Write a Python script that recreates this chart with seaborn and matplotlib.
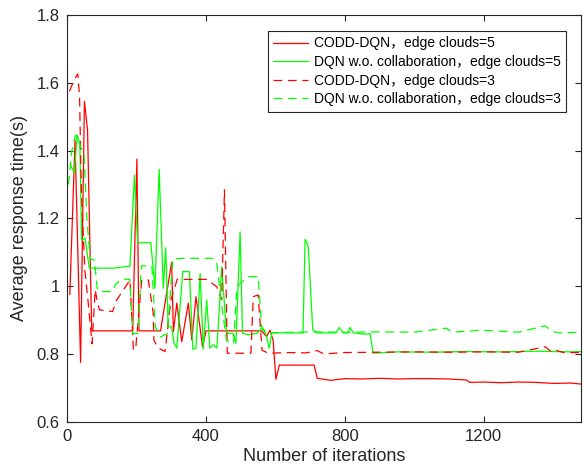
import matplotlib
matplotlib.use("Agg")
import matplotlib.pyplot as plt
import numpy as np
import pandas as pd
import seaborn as sns

# ---------------- data ----------------
labels = ["CODD-DQN\uff0cedge clouds=5",
          "DQN w.o. collaboration\uff0cedge clouds=5",
          "CODD-DQN\uff0cedge clouds=3",
          "DQN w.o. collaboration\uff0cedge clouds=3"]

r5_x = [9, 24, 40, 51, 60, 72, 190, 202, 208, 270, 302, 307, 317, 331, 350, 360, 372,
        391, 401, 561, 575, 585, 594, 602, 612, 712, 721, 760, 800, 850, 900, 950, 1000,
        1050, 1100, 1150, 1160, 1200, 1250, 1300, 1350, 1400, 1450, 1480]
r5_y = [0.975, 1.43, 0.775, 1.545, 1.46, 0.868, 0.868, 1.375, 0.868, 0.868, 1.07, 0.866,
        0.95, 0.836, 0.95, 0.841, 0.969, 0.821, 0.868, 0.868, 0.851, 0.87, 0.84, 0.725,
        0.767, 0.767, 0.728, 0.722, 0.727, 0.726, 0.728, 0.726, 0.727, 0.727, 0.726,
        0.723, 0.716, 0.717, 0.715, 0.717, 0.716, 0.713, 0.714, 0.711]

g5_x = [10, 22, 30, 38, 43, 53, 65, 134, 182, 195, 204, 242, 254, 266, 278, 285, 292,
        302, 309, 317, 334, 353, 363, 372, 384, 393, 403, 412, 422, 432, 439, 446, 460,
        479, 487, 499, 506, 523, 548, 561, 573, 583, 590, 680, 686, 695, 708, 719, 775,
        784, 795, 810, 815, 825, 860, 873, 882, 950, 1050, 1150, 1250, 1350, 1450, 1480]
g5_y = [1.36, 1.333, 1.446, 1.416, 1.136, 1.141, 1.053, 1.053, 1.059, 1.328, 1.128,
        1.128, 0.994, 1.345, 0.994, 1.113, 0.88, 0.88, 0.831, 0.817, 1.043, 1.043, 0.814,
        0.817, 1.038, 0.814, 0.959, 0.817, 0.827, 0.817, 0.93, 1.057, 0.861, 0.861, 0.831,
        1.16, 0.861, 0.856, 0.861, 0.876, 0.86, 0.817, 0.862, 0.862, 1.138, 1.118, 0.872,
        0.862, 0.862, 0.878, 0.862, 0.862, 0.878, 0.862, 0.858, 0.86, 0.802, 0.806, 0.805,
        0.807, 0.806, 0.808, 0.806, 0.807]

r3_x = [8, 22, 32, 37, 42, 52, 62, 73, 82, 87, 94, 132, 144, 182, 192, 199, 216, 235,
        249, 251, 264, 283, 300, 318, 403, 432, 446, 454, 462, 530, 537, 551, 562, 580,
        640, 690, 720, 740, 800, 900, 1000, 1100, 1200, 1300, 1377, 1395, 1410, 1430, 1480]
r3_y = [1.575, 1.61, 1.626, 1.56, 1.29, 1.05, 0.95, 0.83, 0.989, 0.96, 0.93, 0.925,
        0.959, 1.018, 0.811, 0.82, 1.018, 1.018, 0.92, 0.84, 0.817, 0.807, 0.96, 1.02,
        1.02, 0.998, 0.96, 1.284, 0.802, 0.802, 0.969, 0.974, 0.811, 0.802, 0.804, 0.803,
        0.81, 0.8, 0.804, 0.805, 0.806, 0.805, 0.806, 0.805, 0.821, 0.806, 0.81, 0.804,
        0.804]

g3_x = [5, 15, 25, 33, 40, 50, 58, 68, 80, 88, 96, 132, 140, 158, 182, 190, 205, 215,
        245, 255, 270, 290, 305, 331, 422, 432, 445, 460, 480, 490, 523, 551, 561, 575,
        700, 800, 900, 1000, 1092, 1110, 1194, 1300, 1377, 1397, 1420, 1480]
g3_y = [1.30, 1.40, 1.445, 1.44, 1.41, 1.39, 1.2, 1.08, 1.077, 0.99, 0.984, 0.984,
        1.005, 1.02, 1.02, 0.86, 0.86, 1.06, 1.06, 0.88, 0.85, 0.86, 1.08, 1.082, 1.082,
        1.067, 0.95, 0.84, 0.83, 1.0, 1.028, 1.028, 0.88, 0.862, 0.865, 0.864, 0.865,
        0.864, 0.876, 0.864, 0.87, 0.864, 0.883, 0.866, 0.862, 0.864]

x_ticks = [0, 400, 800, 1200]
y_ticks = [0.6, 0.8, 1.0, 1.2, 1.4, 1.6, 1.8]
y_tick_labels = ["0.6", "0.8", "1", "1.2", "1.4", "1.6", "1.8"]

# ---------------- figure ----------------
sns.set_style("ticks")
plt.rcParams["font.family"] = ["Liberation Sans", "Noto Sans CJK SC"]

fig = plt.figure(figsize=(5.84, 4.76), dpi=100)
ax = fig.add_axes([0.1142, 0.1141, 0.8807, 0.8544])

RED = "#ff0000"
GREEN = "#00ff00"
series = [
    (r5_x, r5_y, RED, "-"),
    (g5_x, g5_y, GREEN, "-"),
    (r3_x, r3_y, RED, (0, (7, 4.5))),
    (g3_x, g3_y, GREEN, (0, (7, 4.5))),
]
for (xs, ys, col, ls), lab in zip(series, labels):
    df = pd.DataFrame({"it": xs, "val": ys})
    sns.lineplot(data=df, x="it", y="val", ax=ax, color=col, linestyle=ls,
                 linewidth=0.9, estimator=None, sort=False, label=lab)

ax.set_xlim(0, 1480)
ax.set_ylim(0.6, 1.8)
ax.set_xticks(x_ticks)
ax.set_xticklabels([str(t) for t in x_ticks])
ax.set_yticks(y_ticks)
ax.set_yticklabels(y_tick_labels)

dark = "#262626"
for s in ax.spines.values():
    s.set_visible(True)
    s.set_color(dark)
    s.set_linewidth(0.8)
ax.tick_params(direction="in", top=True, right=True, length=4, width=0.8,
               colors=dark, labelsize=12, pad=5)
ax.set_xlabel("Number of iterations", fontsize=13, color=dark, labelpad=3)
ax.set_ylabel("Average response time(s)", fontsize=13, color=dark, labelpad=6)

leg = ax.legend(loc="upper right", bbox_to_anchor=(0.971, 0.961), borderaxespad=0,
                frameon=True, fancybox=False, framealpha=1, edgecolor="#262626",
                fontsize=10, handlelength=2.5, handletextpad=0.4, labelspacing=0.33,
                borderpad=0.4)
leg.get_frame().set_linewidth(0.8)
for t in leg.get_texts():
    t.set_color("#000000")

fig.savefig("out.png", dpi=100)
